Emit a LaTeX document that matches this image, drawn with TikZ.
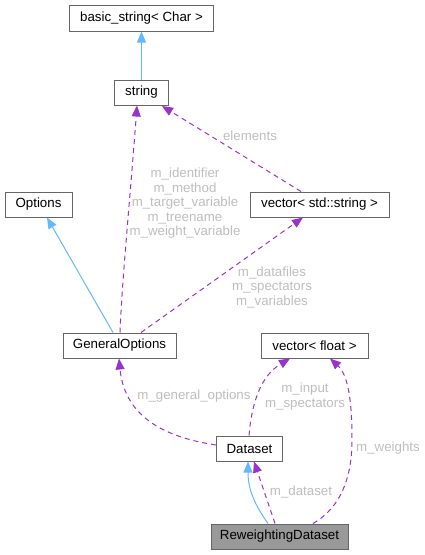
\documentclass[tikz,border=0pt]{standalone}
\usepackage{fontspec}
\setmainfont{Liberation Sans}
\usetikzlibrary{arrows.meta}
\definecolor{inhblue}{HTML}{63B8FF}
\definecolor{usepurple}{HTML}{9A32CD}
\definecolor{lblgray}{HTML}{BEBEBE}
\definecolor{boxgray}{HTML}{666666}
\definecolor{curfill}{HTML}{999999}
\tikzset{
  cls/.style={draw=boxgray, line width=1pt, fill=white, inner sep=0pt, minimum height=25pt, font=\fontsize{13.3}{15}\selectfont},
  inh/.style={draw=inhblue, line width=1pt, -{Triangle[length=11pt,width=9pt,fill=inhblue]}},
  usearr/.style={draw=usepurple, line width=1pt, dash pattern=on 5pt off 4pt, -{Triangle[length=11pt,width=9pt,fill=usepurple]}},
  lbl/.style={text=lblgray, align=center, inner sep=0pt, font=\fontsize{13.3}{14.5}\selectfont}
}
\begin{document}
\begin{tikzpicture}[x=1pt,y=-1pt]
\useasboundingbox (0,0) rectangle (425,555);
\node[cls, minimum width=144pt, minimum height=26pt] (bs) at (141.5,18) {basic\_string< Char >};
\node[cls, minimum width=54pt] (str) at (141.5,92.5) {string};
\node[cls, minimum width=67pt] (opt) at (38.5,204.5) {Options};
\node[cls, minimum width=139pt] (vs) at (319.5,204.5) {vector< std::string >};
\node[cls, minimum width=113pt] (go) at (119.5,345.5) {GeneralOptions};
\node[cls, minimum width=107pt] (vf) at (314.5,345.5) {vector< float >};
\node[cls, minimum width=66pt] (ds) at (249.5,448.5) {Dataset};
\node[cls, minimum width=137pt, fill=curfill] (rd) at (279.5,536.5) {ReweightingDataset};

% inheritance
\draw[inh] (str.north) -- (bs.south);
\draw[inh] (go.north west -| 113,0) -- (opt.south west -| 47,0);
\draw[inh] (rd.north west -| 268,0) .. controls (255,505) and (248,490) .. (ds.south west -| 248,0);

% usage
\draw[usearr] (go.north west -| 120,0) .. controls (122,280) and (130,200) .. (str.south west -| 137,0);
\draw[usearr] (vs.north west -| 301,0) -- (162,106);
\draw[usearr] (go.north west -| 141,0) -- (vs.south west -| 303,0);
\draw[usearr] (ds.west |- 0,445) .. controls (170,438) and (125,420) .. (go.south west -| 119,0);
\draw[usearr] (ds.north west -| 249,0) .. controls (252,400) and (262,375) .. (vf.south west -| 290,0);
\draw[usearr] (rd.north west -| 313,0) .. controls (345,505) and (352,470) .. (352,440) .. controls (352,400) and (348,375) .. (vf.south west -| 330,0);
\draw[usearr] (rd.north west -| 275,0) -- (ds.south west -| 254,0);

% labels
\node[lbl] (l1) at (250,136) {elements};
\node[lbl] (l2) at (185,203.5) {m\_identifier\\m\_method\\m\_target\_variable\\m\_treename\\m\_weight\_variable};
\node[lbl] (l3) at (272,287) {m\_datafiles\\m\_spectators\\m\_variables};
\node[lbl] (l4) at (194,396) {m\_general\_options};
\node[lbl] (l5) at (305,396.5) {m\_input\\m\_spectators};
\node[lbl] (l6) at (388,448) {m\_weights};
\node[lbl] (l7) at (301,492) {m\_dataset};
\end{tikzpicture}
\end{document}
